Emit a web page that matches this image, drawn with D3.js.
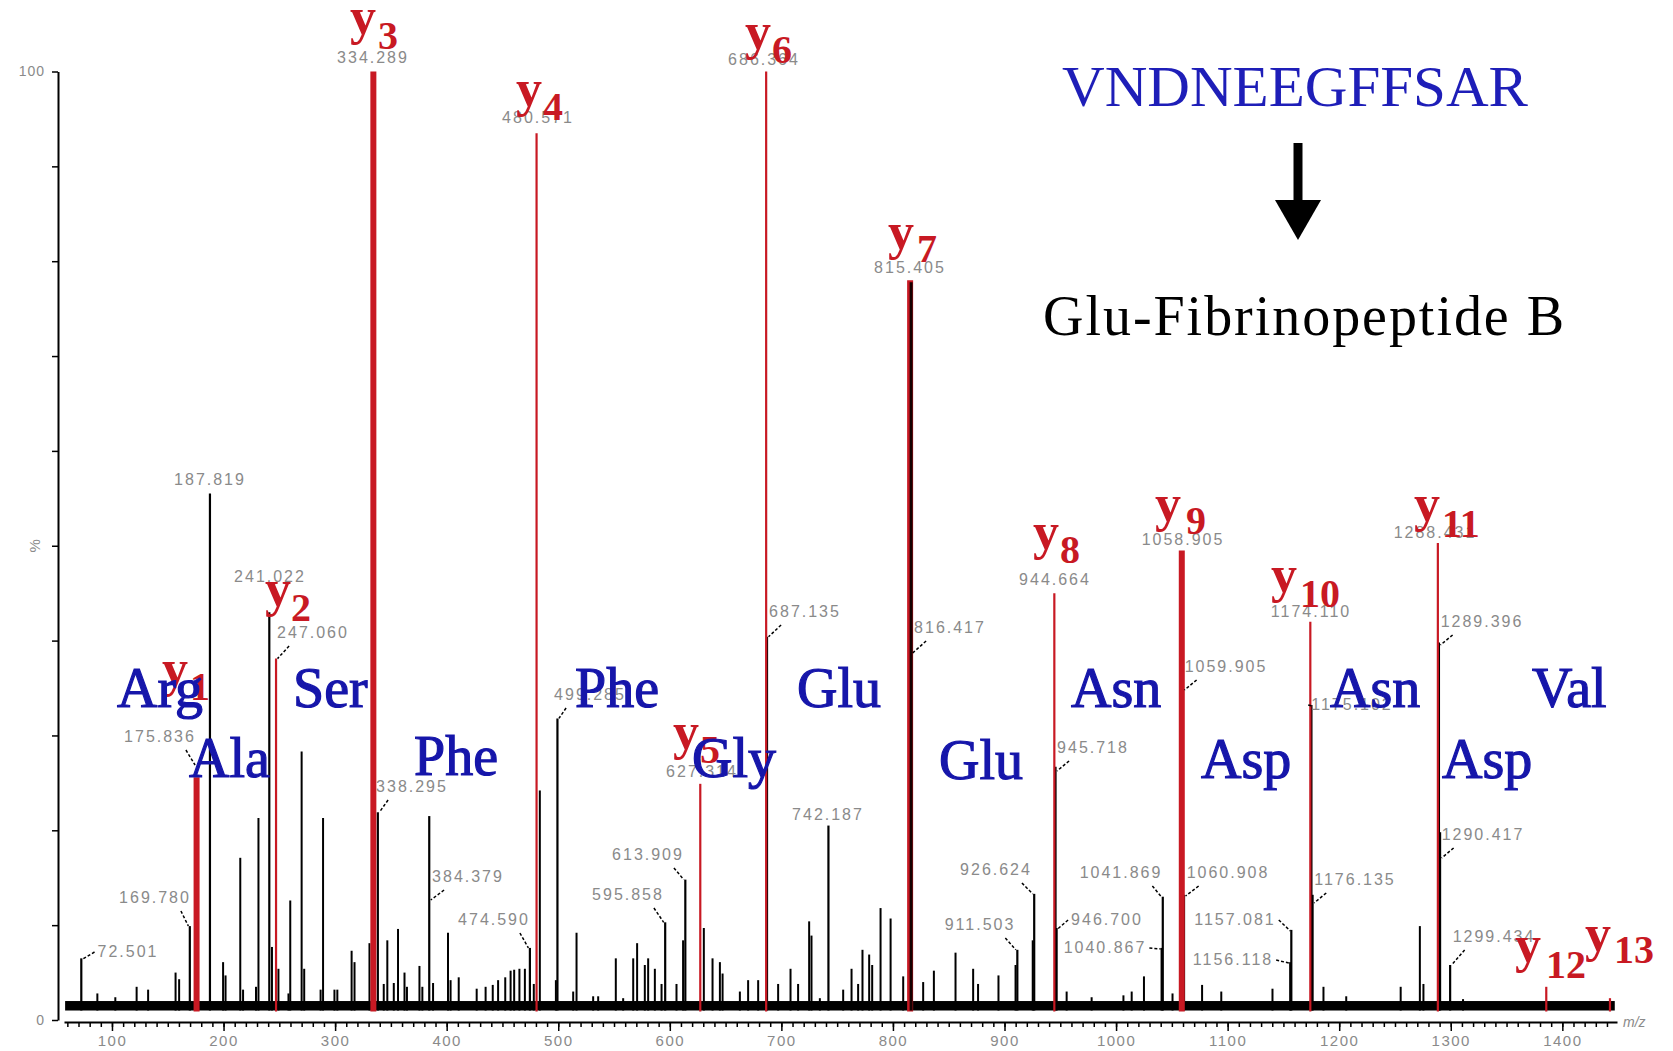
<!DOCTYPE html>
<html>
<head>
<meta charset="utf-8">
<script src="https://cdnjs.cloudflare.com/ajax/libs/d3/7.8.5/d3.min.js"></script>
<style>
  html, body { margin: 0; padding: 0; background: #fff; }
  svg { display: block; }
</style>
</head>
<body>
<div id="chart"></div>
<script>
// ---- data ----
// y-ion series
const ionNames = ['1', '2', '3', '4', '5', '6', '7', '8', '9', '10', '11', '12', '13'];
const ionMz = [175.836, 247.060, 334.289, 480.571, 627.314, 686.364, 815.405, 944.664, 1058.905, 1174.110, 1288.431, 1385.6, 1442.7];
const ionIntensity = [25.6, 38.1, 100, 93.5, 24.9, 100, 78, 45, 49.5, 42, 50.3, 3.5, 2.3];
const ionLabelled = [true, true, true, true, true, true, true, true, true, true, true, false, false];

// other labelled peaks
const peakMz = [72.501, 169.780, 187.819, 241.022, 338.295, 384.379, 474.590, 499.285, 595.858, 613.909,
  687.135, 742.187, 816.417, 911.503, 926.624, 945.718, 946.700, 1040.867, 1041.869, 1059.905,
  1060.908, 1156.118, 1157.081, 1175.102, 1176.135, 1289.396, 1290.417, 1299.434];
const peakIntensity = [6.5, 9.9, 55.5, 43, 21.9, 21.5, 7.6, 31.8, 10.3, 14.8,
  40.4, 20.5, 38.7, 7.4, 13.3, 26.7, 9.7, 7.6, 13.0, 35.2,
  13.2, 6.1, 9.5, 33.2, 13.2, 39.8, 19.8, 5.8];

// unlabelled peaks
const minorMz = [86.9, 103.0, 122.1, 132.4, 157.0, 160.2, 199.6, 201.8, 215.0, 217.5, 229.1, 231.3, 243.4, 249.2,
  258.2, 259.8, 270.0, 272.3, 287.0, 289.2, 299.4, 302.0, 314.8, 317.4, 330.8, 343.6, 346.8, 352.6, 356.4,
  362.2, 364.4, 375.6, 378.2, 387.8, 401.2, 403.5, 410.8, 426.9, 434.9, 441.3, 446.1, 452.5, 457.3, 460.5,
  465.2, 470.1, 478.1, 483.5, 497.9, 513.4, 516.4, 531.3, 535.8, 551.6, 558.2, 567.2, 570.7, 577.6, 580.6,
  586.6, 592.6, 606.0, 611.9, 630.5, 638.3, 644.9, 647.3, 662.8, 670.2, 679.2, 697.1, 708.2, 715.0, 724.9,
  727.0, 734.5, 755.4, 762.9, 768.8, 772.7, 778.7, 781.4, 788.9, 797.9, 809.2, 827.1, 836.7, 856.1, 871.9,
  876.3, 894.6, 909.9, 925.3, 955.7, 978.1, 1006.6, 1014.0, 1025.0, 1050.6, 1077.1, 1094.3, 1140.2, 1185.9,
  1206.3, 1255.1, 1272.3, 1275.5, 1311.0];
const minorIntensity = [2.8, 2.4, 3.5, 3.2, 5.0, 4.3, 6.1, 4.7, 17.1, 3.2, 3.5, 21.3, 7.7, 5.4,
  2.8, 12.6, 28.3, 5.4, 3.2, 21.3, 3.2, 3.2, 7.3, 6.1, 8.1, 3.8, 8.4, 3.9, 9.6,
  5.0, 3.5, 5.7, 3.5, 3.9, 9.2, 4.2, 4.5, 3.3, 3.5, 3.7, 4.2, 4.5, 5.2, 5.3,
  5.4, 5.4, 3.8, 24.2, 4.2, 3.0, 9.2, 2.5, 2.5, 6.5, 2.3, 6.5, 8.1, 5.8, 6.5,
  5.4, 3.8, 3.8, 8.4, 9.7, 6.5, 6.1, 4.9, 3.0, 4.2, 4.2, 3.8, 5.4, 3.8, 10.4,
  8.9, 2.3, 3.2, 5.4, 3.8, 7.4, 6.9, 5.8, 11.8, 10.7, 4.6, 4.0, 5.2, 7.1, 5.4,
  3.8, 4.7, 5.8, 8.4, 3.0, 2.4, 2.6, 3.0, 4.6, 2.8, 3.7, 3.0, 3.3, 3.5,
  2.5, 3.5, 9.9, 3.8, 2.2];

// baseline noise band (m/z span, intensity span)
const noiseMz = [58, 1447];
const noiseLevel = [1.0, 2.0];

// residues read between consecutive y ions
const residues = ['Arg', 'Ser', 'Phe', 'Glu', 'Asn', 'Asn', 'Val', 'Ala', 'Phe', 'Gly', 'Glu', 'Asp', 'Asp'];

const xTickValues = [100, 200, 300, 400, 500, 600, 700, 800, 900, 1000, 1100, 1200, 1300, 1400];
const yTickValues = [0, 10, 20, 30, 40, 50, 60, 70, 80, 90, 100];
const yTickText = ['0', '', '', '', '', '', '', '', '', '', '100'];

// ---- layout (pixels) ----
const W = 1673, H = 1051;
const massLabelPos = {
  '72.501': [128, 957], '169.780': [155, 903], '175.836': [160, 742], '187.819': [210, 485],
  '241.022': [270, 582], '247.060': [313, 638], '334.289': [373, 63], '338.295': [412, 792],
  '384.379': [468, 882], '474.590': [494, 925], '480.571': [538, 123], '499.285': [590, 700],
  '595.858': [628, 900], '613.909': [648, 860], '627.314': [702, 777], '686.364': [764, 65],
  '687.135': [805, 617], '742.187': [828, 820], '815.405': [910, 273], '816.417': [950, 633],
  '911.503': [980, 930], '926.624': [996, 875], '944.664': [1055, 585], '945.718': [1093, 753],
  '946.700': [1107, 925], '1040.867': [1105, 953], '1041.869': [1121, 878], '1058.905': [1183, 545],
  '1059.905': [1226, 672], '1060.908': [1228, 878], '1156.118': [1233, 965], '1157.081': [1235, 925],
  '1174.110': [1311, 617], '1175.102': [1352, 710], '1176.135': [1355, 885], '1288.431': [1435, 538],
  '1289.396': [1482, 627], '1290.417': [1483, 840], '1299.434': [1494, 942]
};
// 'y' left edge and baseline of each ion tag; subscript x and baseline
const ionTagPos = [
  [162, 686, 190, 700], [265, 606, 291, 621], [350, 34, 378, 49], [516, 106, 543, 120],
  [673, 749, 700, 763], [745, 49, 772, 63], [888, 249, 917, 262], [1033, 549, 1060, 563],
  [1155, 521, 1186, 534], [1271, 592, 1300, 607], [1414, 521, 1442, 537], [1515, 962, 1546, 978],
  [1585, 951, 1614, 963]
];
const residuePos = [
  [117, 707], [293, 707], [575, 707], [797, 707], [1071, 707], [1330, 707], [1532, 707],
  [189, 777], [414, 775], [692, 777], [939, 779], [1201, 778], [1442, 778]
];
const thickIons = ['1', '3', '7', '9'];

const RED = '#c81923';
const BLUE = '#1616aa';
const GRAY = '#8a8a8a';

const svg = d3.select('#chart').append('svg')
  .attr('width', W)
  .attr('height', H)
  .style('background', '#fff');

const x = d3.scaleLinear().domain([57, 1449]).range([64, 1617]);
const y = d3.scaleLinear().domain([0, 100]).range([1020, 71.5]);

// ---- axes ----
const yAxisG = svg.append('g')
  .attr('transform', 'translate(58,0)')
  .call(d3.axisLeft(y).tickValues(yTickValues).tickSize(6).tickSizeOuter(0).tickPadding(7)
    .tickFormat((d, i) => yTickText[i]));
yAxisG.select('.domain').attr('stroke', '#000').attr('stroke-width', 2);
yAxisG.selectAll('.tick line').attr('stroke', '#000').attr('stroke-width', 1.5);
yAxisG.selectAll('.tick text').attr('fill', GRAY).style('font', '14px "Liberation Sans", Arial, sans-serif')
  .style('letter-spacing', '1px');

svg.append('text')
  .attr('transform', `translate(40,${y(50)}) rotate(-90)`)
  .attr('text-anchor', 'middle')
  .attr('fill', GRAY)
  .style('font', '15px "Liberation Sans", Arial, sans-serif')
  .text('%');

const xAxisY = y(0) + 2;
const minorTicks = d3.range(60, 1450, 10);
const xMinor = svg.append('g')
  .attr('transform', `translate(0,${xAxisY})`)
  .call(d3.axisBottom(x).tickValues(minorTicks).tickSize(5).tickSizeOuter(0).tickFormat(''));
xMinor.select('.domain').attr('stroke', '#000').attr('stroke-width', 2);
xMinor.selectAll('.tick line').attr('stroke', '#000').attr('stroke-width', 1.5);

const xMajor = svg.append('g')
  .attr('transform', `translate(0,${xAxisY})`)
  .call(d3.axisBottom(x).tickValues(xTickValues).tickSize(9).tickSizeOuter(0).tickPadding(4)
    .tickFormat(d3.format('d')));
xMajor.select('.domain').remove();
xMajor.selectAll('.tick line').attr('stroke', '#000').attr('stroke-width', 1.5);
xMajor.selectAll('.tick text').attr('fill', GRAY).style('font', '15px "Liberation Sans", Arial, sans-serif')
  .style('letter-spacing', '1.5px');

svg.append('text')
  .attr('x', x(1449) + 6)
  .attr('y', xAxisY + 5)
  .attr('fill', GRAY)
  .style('font', 'italic 14px "Liberation Sans", Arial, sans-serif')
  .text('m/z');

// ---- spectrum ----
const base = noiseLevel[0];
svg.append('rect')
  .attr('x', x(noiseMz[0]))
  .attr('y', y(noiseLevel[1]))
  .attr('width', x(noiseMz[1]) - x(noiseMz[0]))
  .attr('height', y(noiseLevel[0]) - y(noiseLevel[1]))
  .attr('fill', '#000');

const minorData = minorMz.map((m, i) => ({ mz: m, value: minorIntensity[i] }));
svg.append('g').selectAll('line')
  .data(minorData)
  .enter()
  .append('line')
  .attr('x1', d => x(d.mz)).attr('x2', d => x(d.mz))
  .attr('y1', y(base)).attr('y2', d => y(d.value))
  .attr('stroke', '#000').attr('stroke-width', 2);

const peakData = peakMz.map((m, i) => ({ mz: m, value: peakIntensity[i], label: m.toFixed(3) }));
svg.append('g').selectAll('line')
  .data(peakData)
  .enter()
  .append('line')
  .attr('x1', d => x(d.mz)).attr('x2', d => x(d.mz))
  .attr('y1', y(base)).attr('y2', d => y(d.value))
  .attr('stroke', '#000').attr('stroke-width', 2.2);

const ionData = ionMz.map((m, i) => ({
  name: ionNames[i], mz: m, value: ionIntensity[i],
  label: ionLabelled[i] ? m.toFixed(3) : null
}));
svg.append('g').selectAll('line')
  .data(ionData)
  .enter()
  .append('line')
  .attr('x1', d => x(d.mz)).attr('x2', d => x(d.mz))
  .attr('y1', y(base) + 1).attr('y2', d => y(d.value))
  .attr('stroke', RED)
  .attr('stroke-width', d => thickIons.includes(d.name) ? 6 : 2.2);

// y7 shows a dark core
svg.append('g').selectAll('line')
  .data(ionData.filter(d => d.name === '7'))
  .enter()
  .append('line')
  .attr('x1', d => x(d.mz) + 1).attr('x2', d => x(d.mz) + 1)
  .attr('y1', y(base)).attr('y2', d => y(d.value) + 2)
  .attr('stroke', '#150000').attr('stroke-width', 3);

// ---- mass labels with short leaders ----
const labelled = peakData.concat(ionData.filter(d => d.label));
const labelG = svg.append('g');
const leaderG = svg.append('g');
labelled.forEach(d => {
  const pos = massLabelPos[d.label];
  if (!pos) return;
  const [cx, b] = pos;
  const t = labelG.append('text')
    .attr('x', cx).attr('y', b)
    .attr('text-anchor', 'middle')
    .attr('fill', GRAY)
    .style('font', '16px "Liberation Sans", Arial, sans-serif')
    .style('letter-spacing', '2px')
    .text(d.label);
  const w = t.node().getComputedTextLength();
  const left = cx - w / 2, right = cx + w / 2;
  const px = x(d.mz), py = y(d.value);
  if (Math.abs(cx - px) <= 18) return;
  const onRight = cx > px;
  const gap = py - b;
  let sx, sy, ex, ey;
  if (gap >= -6 && gap < 8) {
    sx = onRight ? left - 3 : right + 3;
    sy = b - 5;
    ex = px + (onRight ? 1 : -1);
    ey = py + 1;
  } else {
    sx = onRight ? left + 12 : right - 10;
    sy = b + 8;
    ex = px + (onRight ? 1.5 : -1.5);
    ey = Math.min(Math.max(py, b + 18), b + 23);
  }
  leaderG.append('line')
    .attr('x1', sx).attr('y1', sy).attr('x2', ex).attr('y2', ey)
    .attr('stroke', '#000').attr('stroke-width', 1.5)
    .attr('stroke-dasharray', '3,2');
});

// ---- y ion tags ----
const tagG = svg.append('g');
ionData.forEach((d, i) => {
  const p = ionTagPos[i];
  tagG.append('text')
    .attr('x', p[0]).attr('y', p[1])
    .attr('fill', RED)
    .style('font', 'bold 52px "Liberation Serif", "Times New Roman", serif')
    .text('y');
  tagG.append('text')
    .attr('x', p[2]).attr('y', p[3])
    .attr('fill', RED)
    .style('font', 'bold 40px "Liberation Serif", "Times New Roman", serif')
    .text(d.name);
});

// ---- residue names ----
svg.append('g').selectAll('text')
  .data(residues)
  .enter()
  .append('text')
  .attr('x', (d, i) => residuePos[i][0])
  .attr('y', (d, i) => residuePos[i][1])
  .attr('fill', BLUE)
  .attr('stroke', BLUE)
  .attr('stroke-width', 1.2)
  .style('font', '56px "Liberation Serif", "Times New Roman", serif')
  .text(d => d);

// ---- peptide annotation ----
svg.append('text')
  .attr('x', 1062).attr('y', 106)
  .attr('fill', '#1e1eb8')
  .attr('textLength', 466)
  .attr('lengthAdjust', 'spacingAndGlyphs')
  .style('font', '57px "Liberation Serif", "Times New Roman", serif')
  .text('VNDNEEGFFSAR');

svg.append('line')
  .attr('x1', 1298).attr('x2', 1298)
  .attr('y1', 143).attr('y2', 206)
  .attr('stroke', '#000').attr('stroke-width', 9);
svg.append('path')
  .attr('d', 'M1275,200 L1321,200 L1298,240 Z')
  .attr('fill', '#000');

svg.append('text')
  .attr('x', 1043).attr('y', 335)
  .attr('fill', '#000')
  .attr('textLength', 521)
  .attr('lengthAdjust', 'spacing')
  .style('font', '56px "Liberation Serif", "Times New Roman", serif')
  .text('Glu-Fibrinopeptide B');
</script>
</body>
</html>
